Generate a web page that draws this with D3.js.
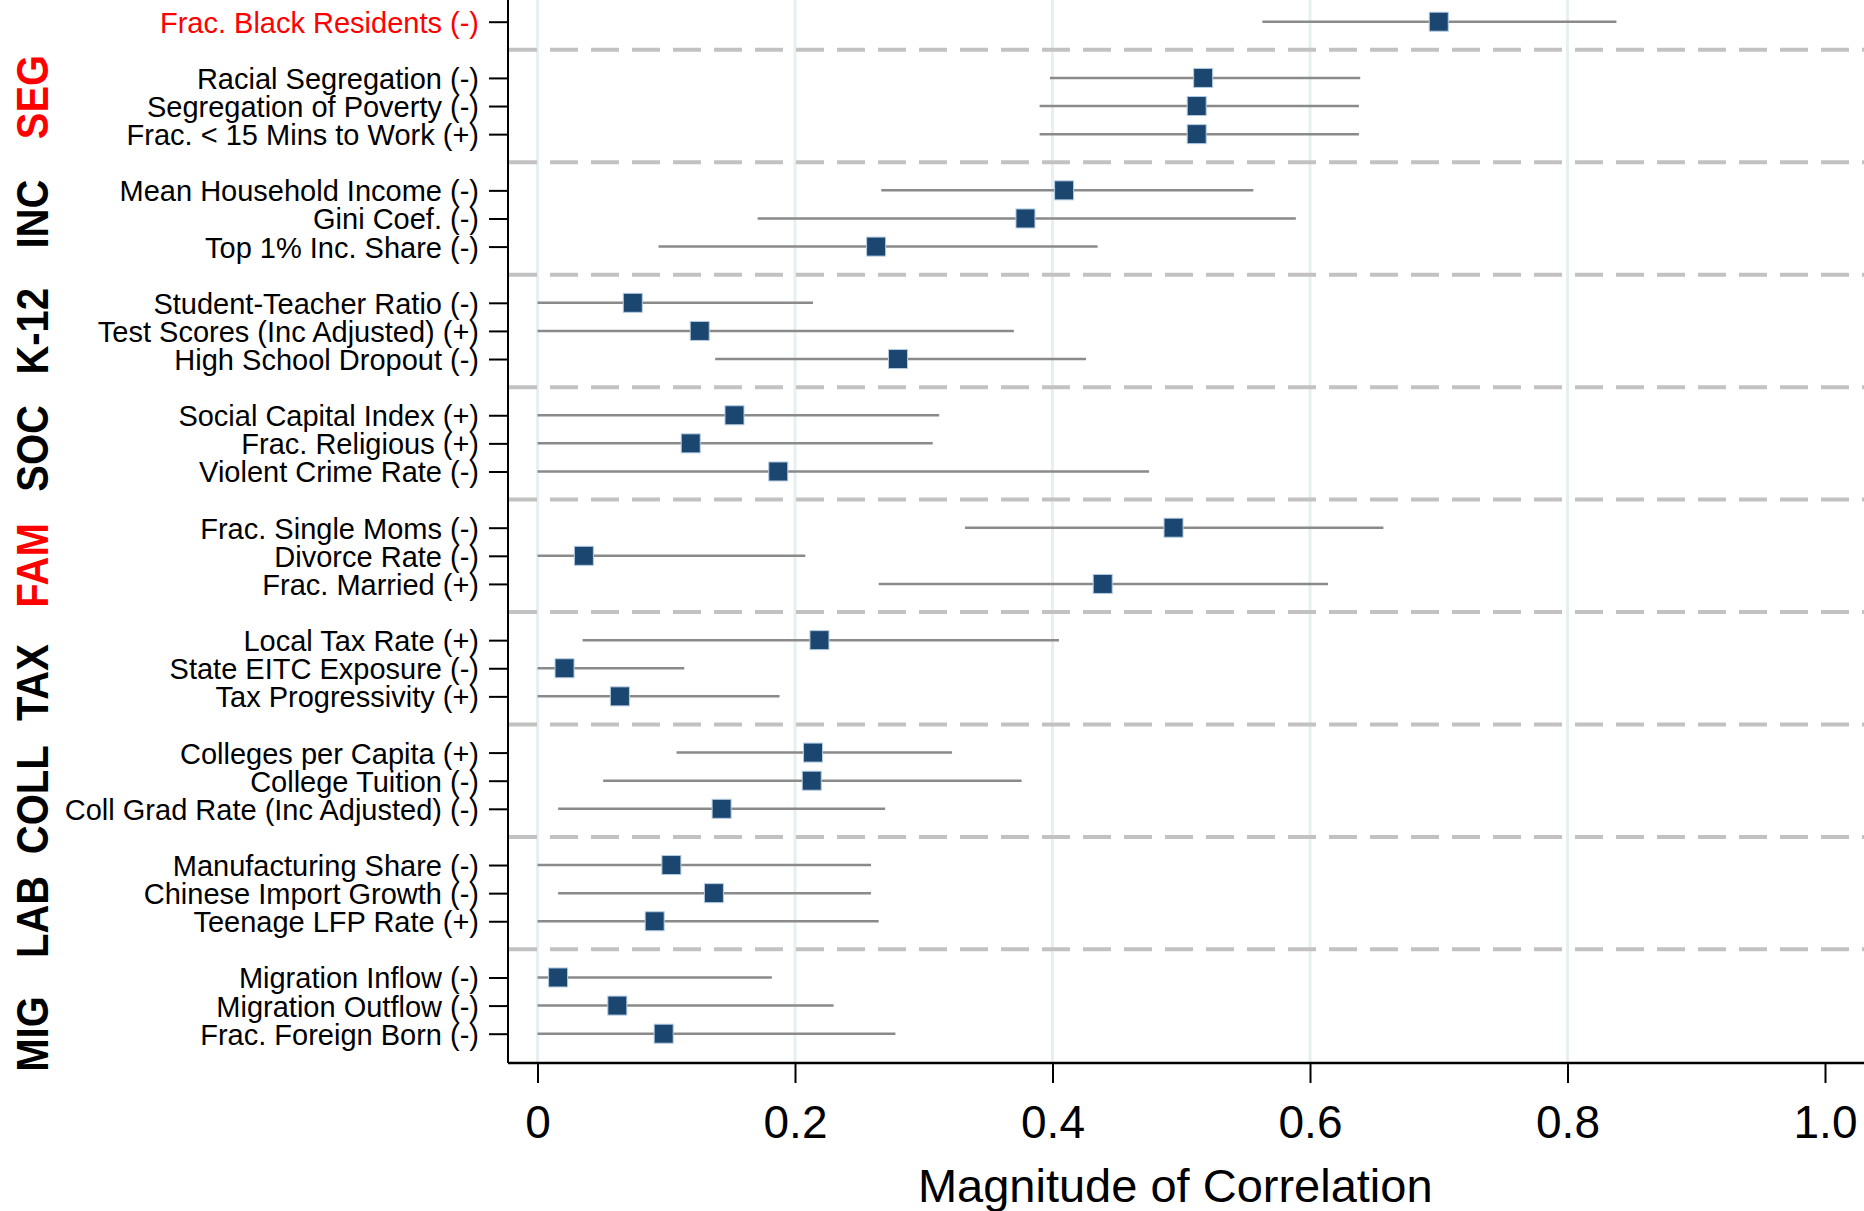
<!DOCTYPE html>
<html>
<head>
<meta charset="utf-8">
<script src="https://cdn.jsdelivr.net/npm/d3@7"></script>
<style>
  body { margin: 0; background: #fff; }
  text { font-family: "Liberation Sans", Arial, sans-serif; }
</style>
</head>
<body>
<svg id="svg" width="1864" height="1211"></svg>
<script>
// group names (group 0 is the lone top row, no side label)
var groupNames = ["", "SEG", "INC", "K-12", "SOC", "FAM", "TAX", "COLL", "LAB", "MIG"];
var groupRed   = ["SEG", "FAM"];

var labels = [
  "Frac. Black Residents (-)",
  "Racial Segregation (-)", "Segregation of Poverty (-)", "Frac. < 15 Mins to Work (+)",
  "Mean Household Income (-)", "Gini Coef. (-)", "Top 1% Inc. Share (-)",
  "Student-Teacher Ratio (-)", "Test Scores (Inc Adjusted) (+)", "High School Dropout (-)",
  "Social Capital Index (+)", "Frac. Religious (+)", "Violent Crime Rate (-)",
  "Frac. Single Moms (-)", "Divorce Rate (-)", "Frac. Married (+)",
  "Local Tax Rate (+)", "State EITC Exposure (-)", "Tax Progressivity (+)",
  "Colleges per Capita (+)", "College Tuition (-)", "Coll Grad Rate (Inc Adjusted) (-)",
  "Manufacturing Share (-)", "Chinese Import Growth (-)", "Teenage LFP Rate (+)",
  "Migration Inflow (-)", "Migration Outflow (-)", "Frac. Foreign Born (-)"
];
var group = [0, 1,1,1, 2,2,2, 3,3,3, 4,4,4, 5,5,5, 6,6,6, 7,7,7, 8,8,8, 9,9,9];

// point estimate and confidence bounds (magnitude of correlation)
var est = [0.700, 0.517, 0.512, 0.512, 0.409, 0.379, 0.263, 0.074, 0.126, 0.280,
           0.153, 0.119, 0.187, 0.494, 0.036, 0.439, 0.219, 0.021, 0.064,
           0.214, 0.213, 0.143, 0.104, 0.137, 0.091, 0.016, 0.062, 0.098];
var lo  = [0.563, 0.398, 0.390, 0.390, 0.267, 0.171, 0.094, 0.000, 0.000, 0.138,
           0.000, 0.000, 0.000, 0.332, 0.000, 0.265, 0.035, 0.000, 0.000,
           0.108, 0.051, 0.016, 0.000, 0.016, 0.000, 0.000, 0.000, 0.000];
var hi  = [0.838, 0.639, 0.638, 0.638, 0.556, 0.589, 0.435, 0.214, 0.370, 0.426,
           0.312, 0.307, 0.475, 0.657, 0.208, 0.614, 0.405, 0.114, 0.188,
           0.322, 0.376, 0.270, 0.259, 0.259, 0.265, 0.182, 0.230, 0.278];

var xTicks = [0, 0.2, 0.4, 0.6, 0.8, 1.0];
var xTickLabels = ["0", "0.2", "0.4", "0.6", "0.8", "1.0"];

// each group after the first gets a blank row (with a dashed separator) above it
var rows = labels.map(function(d, i) {
  return { label: d, slot: i + group[i], est: est[i], lo: lo[i], hi: hi[i],
           red: i === 0 };
});
var sepSlots = d3.range(1, groupNames.length).map(function(g) { return 4 * g - 3; });

var svg = d3.select("#svg"),
    axisX = 508,      // left axis line
    axisY = 1063,     // bottom axis line
    W = +svg.attr("width");

var x = d3.scaleLinear().domain([0, 1]).range([537.5, 1825]);
var y = d3.scaleLinear().domain([0, 36]).range([21.7, 1033.7]);

// vertical grid
svg.append("g").selectAll("line")
  .data(xTicks.slice(0, 5))
  .enter().append("line")
  .attr("x1", d => x(d)).attr("x2", d => x(d))
  .attr("y1", 0).attr("y2", axisY)
  .style("stroke", "#e6eff1").style("stroke-width", 3);

// dashed separators
svg.append("g").selectAll("line")
  .data(sepSlots)
  .enter().append("line")
  .attr("x1", axisX + 1).attr("x2", W)
  .attr("y1", d => y(d)).attr("y2", d => y(d))
  .style("stroke", "#c2c2c2").style("stroke-width", 4)
  .style("stroke-dasharray", "28,13");

// confidence intervals
svg.append("g").selectAll("line")
  .data(rows)
  .enter().append("line")
  .attr("x1", d => x(d.lo)).attr("x2", d => x(d.hi))
  .attr("y1", d => y(d.slot)).attr("y2", d => y(d.slot))
  .style("stroke", "#8a8a8a").style("stroke-width", 2.5);

// point estimates
var ms = 19;
svg.append("g").selectAll("rect")
  .data(rows)
  .enter().append("rect")
  .attr("x", d => x(d.est) - ms / 2)
  .attr("y", d => y(d.slot) - ms / 2)
  .attr("width", ms).attr("height", ms)
  .style("fill", "#1b4670")
  .style("stroke", "#b4cce2").style("stroke-width", 1);

// y axis
var yAxis = d3.axisLeft(y)
  .tickValues(rows.map(d => d.slot))
  .tickFormat(function(s) { return rows.find(r => r.slot === s).label; })
  .tickSize(19).tickPadding(10);
var gy = svg.append("g").attr("transform", "translate(" + axisX + ",0)").call(yAxis);
gy.select(".domain").attr("d", "M0,0V" + axisY).style("stroke", "#000").style("stroke-width", 2);
gy.selectAll(".tick line").style("stroke", "#000").style("stroke-width", 2);
gy.selectAll(".tick text")
  .style("font-size", "29px")
  .style("font-family", "'Liberation Sans', Arial, sans-serif")
  .attr("dy", "0.36em")
  .style("fill", function(s) { return rows.find(r => r.slot === s).red ? "#ff0000" : "#000"; });

// x axis
var xAxis = d3.axisBottom(x)
  .tickValues(xTicks)
  .tickFormat((d, i) => xTickLabels[i])
  .tickSize(20).tickPadding(22);
var gx = svg.append("g").attr("transform", "translate(0," + axisY + ")").call(xAxis);
gx.select(".domain").attr("d", "M" + axisX + ",0H" + W).style("stroke", "#000").style("stroke-width", 2.5);
gx.selectAll(".tick line").style("stroke", "#000").style("stroke-width", 2);
gx.selectAll(".tick text")
  .style("font-size", "46px")
  .style("font-family", "'Liberation Sans', Arial, sans-serif")
  .style("fill", "#000");

svg.append("text")
  .attr("x", (x(0) + x(1)) / 2 - 6)
  .attr("y", 1202)
  .attr("text-anchor", "middle")
  .style("font-size", "47px")
  .text("Magnitude of Correlation");

// group labels down the left side
var gl = d3.scalePoint().domain(groupNames.slice(1)).range([97, 1034]);
svg.append("g").selectAll("text")
  .data(groupNames.slice(1))
  .enter().append("text")
  .attr("transform", d => "translate(48," + gl(d) + ") rotate(-90) scale(1,1.12)")
  .attr("text-anchor", "middle")
  .style("font-size", "40px")
  .style("font-weight", "bold")
  .style("fill", d => groupRed.indexOf(d) >= 0 ? "#ff0000" : "#000")
  .text(d => d);
</script>
</body>
</html>
